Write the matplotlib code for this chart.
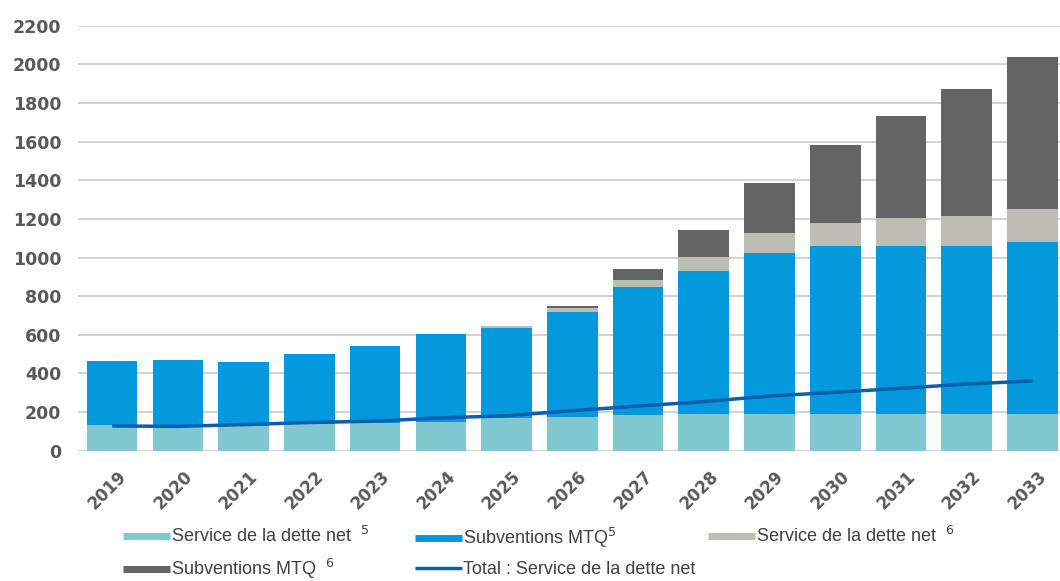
import matplotlib
matplotlib.use("Agg")
import matplotlib.pyplot as plt
import numpy as np
from matplotlib.lines import Line2D

# values
years = ["2019", "2020", "2021", "2022", "2023", "2024", "2025", "2026",
         "2027", "2028", "2029", "2030", "2031", "2032", "2033"]
service_dette_5 = [133, 124, 128, 138, 141, 150, 167, 176, 185, 190, 192, 192, 192, 192, 192]
subventions_5 = [331, 344, 331, 361, 399, 454, 466, 544, 661, 742, 830, 869, 869, 869, 886]
service_dette_6 = [0, 0, 0, 0, 0, 0, 12, 17, 38, 72, 103, 120, 142, 152, 175]
subventions_6 = [0, 0, 0, 0, 0, 0, 0, 14, 55, 138, 259, 404, 530, 658, 783]
total_service = [128, 126, 135, 146, 153, 170, 181, 207, 231, 254, 283, 302, 323, 345, 361]
y_ticks = [0, 200, 400, 600, 800, 1000, 1200, 1400, 1600, 1800, 2000, 2200]

C_TEAL = "#80c7d0"
C_BLUE = "#0399dc"
C_LGRAY = "#bdbdb6"
C_DGRAY = "#646464"
C_LINE = "#0660ae"
C_TEXT = "#595959"

fig = plt.figure(figsize=(10.6, 5.81), dpi=100)
ax = fig.add_axes([78 / 1060, 1 - 450.7 / 581, 1 - 78 / 1060, (450.7 - 25.7) / 581])

x = np.arange(len(years))
w = 0.77
b1 = np.array(service_dette_5)
b2 = b1 + np.array(subventions_5)
b3 = b2 + np.array(service_dette_6)

ax.bar(x, service_dette_5, w, color=C_TEAL, zorder=2)
ax.bar(x, subventions_5, w, bottom=b1, color=C_BLUE, zorder=2)
ax.bar(x, service_dette_6, w, bottom=b2, color=C_LGRAY, zorder=2)
ax.bar(x, subventions_6, w, bottom=b3, color=C_DGRAY, zorder=2)
ax.plot(x, total_service, color=C_LINE, lw=2.5, zorder=3, solid_capstyle="butt")

ax.set_xlim(-0.52, 14.42)
ax.set_ylim(0, 2200)
ax.set_yticks(y_ticks)
ax.set_yticklabels([str(v) for v in y_ticks], fontsize=12.5, fontweight="bold", color=C_TEXT)
ax.set_xticks(x + 0.08)
ax.set_xticklabels(years, rotation=45, ha="right", rotation_mode="anchor",
                   fontsize=12, fontweight="bold", color=C_TEXT)
ax.tick_params(axis="y", length=0, pad=12)
ax.tick_params(axis="x", length=0, pad=12)
ax.grid(axis="y", color="#c6c6c6", lw=1.1, zorder=0)
for s in ax.spines.values():
    s.set_visible(False)

fam = ["Liberation Sans Narrow", "Liberation Sans", "DejaVu Sans"]


def h(color, lw):
    return Line2D([0], [0], color=color, lw=lw, solid_capstyle="butt")


cols = [
    (123, [h(C_TEAL, 5), h(C_DGRAY, 5)],
     ["Service de la dette net  $^{\\mathit{5}}$", "Subventions MTQ  $^{\\mathit{6}}$"]),
    (415, [h(C_BLUE, 5), h(C_LINE, 2.5)],
     ["Subventions MTQ$^{\\mathit{5}}$", "Total : Service de la dette net"]),
    (708, [h(C_LGRAY, 5)], ["Service de la dette net  $^{\\mathit{6}}$"]),
]
for xpix, hs, labs in cols:
    fig.legend(hs, labs, loc="upper left", bbox_to_anchor=(xpix / 1060, 1 - 526 / 581),
               frameon=False, handlelength=2.6, handletextpad=0.05, labelspacing=0.6,
               borderpad=0, borderaxespad=0,
               prop={"family": fam, "size": 13}, labelcolor="#404040")

fig.savefig("out.png", dpi=100)
